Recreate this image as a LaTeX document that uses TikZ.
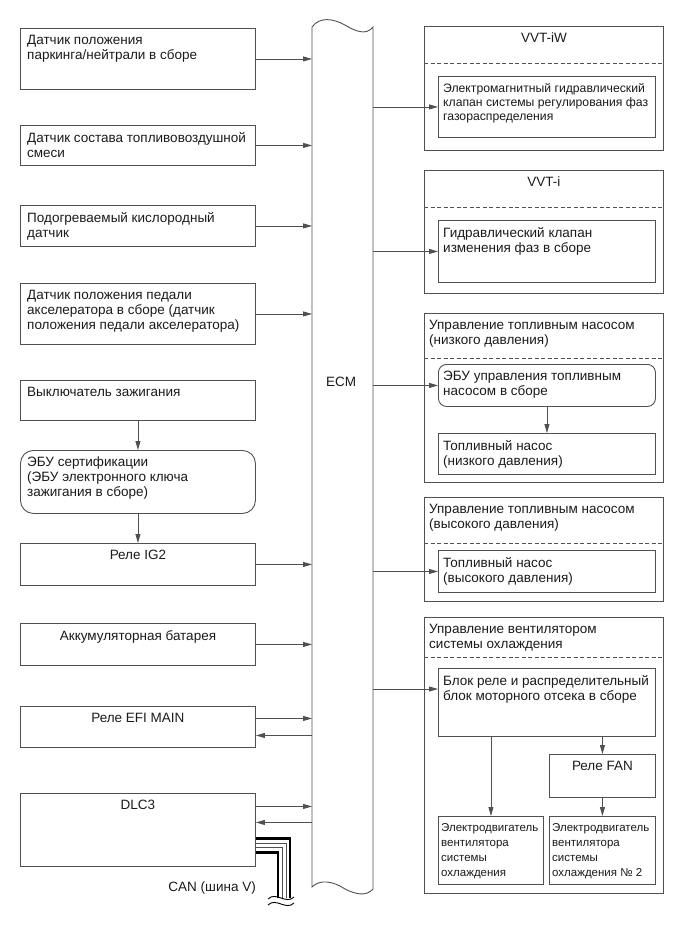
\documentclass[tikz,border=0pt]{standalone}
\usepackage{fontspec}
\setmainfont{Liberation Sans}
\usetikzlibrary{arrows.meta,calc}

\definecolor{linec}{HTML}{505050}
\definecolor{textc}{HTML}{1A1A1A}

\tikzset{
  blk/.style={draw=linec, line width=0.9pt, anchor=north west, inner sep=0pt},
  rblk/.style={blk, rounded corners=#1},
  txt/.style={anchor=north west, align=left, inner sep=0pt, text=textc,
    font=\fontsize{13.5}{15}\selectfont, xshift=7pt, yshift=-7pt},
  rtxt/.style={txt, xshift=-2pt},
  ctxt/.style={anchor=north, inner sep=0pt, text=textc,
    font=\fontsize{13.5}{15}\selectfont, yshift=-7pt},
  mtxt/.style={txt, xshift=-4pt, font=\fontsize{11.5}{15}\selectfont},
  arr/.style={draw=linec, line width=0.8pt, -{Triangle[length=9pt,width=5pt]}},
  dashsep/.style={draw=linec, line width=0.8pt, dash pattern=on 4pt off 2.5pt},
  canthick/.style={draw=black, line width=2.6pt},
  canthin/.style={draw=linec, line width=0.6pt},
}

\begin{document}
\begin{tikzpicture}[x=1pt,y=-1pt]
  \useasboundingbox (0,0) rectangle (689,951);

  % left column
  \node[blk, minimum width=235, minimum height=61] (park) at (20,28) {};
  \node[txt] (park-t) at (park.north west) {Датчик положения\\паркинга/нейтрали в сборе};
  \node[blk, minimum width=235, minimum height=40] (mix) at (20,125) {};
  \node[txt] (mix-t) at (mix.north west) {Датчик состава топливовоздушной\\смеси};
  \node[blk, minimum width=235, minimum height=41] (oxy) at (20,205) {};
  \node[txt] (oxy-t) at (oxy.north west) {Подогреваемый кислородный\\датчик};
  \node[blk, minimum width=235, minimum height=61] (pedal) at (20,283) {};
  \node[txt] (pedal-t) at (pedal.north west) {Датчик положения педали\\акселератора в сборе (датчик\\положения педали акселератора)};
  \node[blk, minimum width=235, minimum height=40] (ign) at (20,380) {};
  \node[txt] (ign-t) at (ign.north west) {Выключатель зажигания};
  \node[rblk=13pt, minimum width=235, minimum height=63] (cert) at (20,450) {};
  \node[txt] (cert-t) at (cert.north west) {ЭБУ сертификации\\(ЭБУ электронного ключа\\зажигания в сборе)};
  \node[blk, minimum width=235, minimum height=42] (ig2) at (20,543) {};
  \node[ctxt] (ig2-t) at (ig2.north) {Реле IG2};
  \node[blk, minimum width=235, minimum height=42] (batt) at (20,623) {};
  \node[ctxt] (batt-t) at (batt.north) {Аккумуляторная батарея};
  \node[blk, minimum width=235, minimum height=41] (efi) at (20,706) {};
  \node[ctxt] (efi-t) at (efi.north) {Реле EFI MAIN};
  \node[blk, minimum width=235, minimum height=73] (dlc) at (20,793) {};
  \node[ctxt] (dlc-t) at (dlc.north) {DLC3};

  \draw[arr] (ign) -- (cert);
  \draw[arr] (cert) -- (ig2);

  % ECM
  \coordinate (ecmL) at (312,27);
  \coordinate (ecmR) at (373,27);
  \draw[draw=linec, line width=0.9pt] (312,887) -- (ecmL)
    .. controls (320,16) and (334,19) .. (345,25)
    .. controls (355,31) and (366,36) .. (ecmR) -- (373,889)
    .. controls (366,897) and (355,894) .. (345,889)
    .. controls (333,881) and (320,879) .. cycle;
  \node[text=textc, font=\fontsize{13.5}{15}\selectfont] (ecm) at (341,382) {ECM};

  \foreach \n in {park,mix,oxy,pedal,ig2,batt}
    \draw[arr] (\n.east) -- (\n.east -| ecmL);
  \coordinate (efi-o) at ($(efi.east)+(0,-8.5)$);
  \coordinate (efi-i) at ($(efi.east)+(0,8.5)$);
  \draw[arr] (efi-o) -- (efi-o -| ecmL);
  \draw[arr] (efi-i -| ecmL) -- (efi-i);
  \coordinate (dlc-o) at ($(dlc.east)+(0,-23.5)$);
  \coordinate (dlc-i) at ($(dlc.east)+(0,-7.5)$);
  \draw[arr] (dlc-o) -- (dlc-o -| ecmL);
  \draw[arr] (dlc-i -| ecmL) -- (dlc-i);

  % CAN
  \coordinate (canA) at ($(dlc.east)+(0,8.5)$);
  \coordinate (canB) at ($(dlc.east)+(0,13.5)$);
  \coordinate (canC) at ($(dlc.east)+(0,17.5)$);
  \coordinate (canD) at ($(dlc.east)+(0,22.5)$);
  \draw[canthick] (canA) -| (290,898);
  \draw[canthin] (canB) -| (286,898);
  \draw[canthin] (canC) -| (282,898);
  \draw[canthick] (canD) -| (278,898);
  \draw[line width=0.9pt] (268,899) .. controls (276,891) and (286,905) .. (294,897);
  \draw[line width=0.9pt] (268,905) .. controls (276,897) and (286,911) .. (294,903);
  \node[anchor=east, inner sep=0pt, text=textc, font=\fontsize{13.5}{15}\selectfont] (can) at (256,888) {CAN (шина V)};

  % right column
  \node[blk, minimum width=239, minimum height=124] (vvtiw) at (424,26) {};
  \node[ctxt] (vvtiw-t) at (vvtiw.north) {VVT-iW};
  \draw[dashsep] (vvtiw.west |- 0,63) -- (vvtiw.east |- 0,63);
  \node[blk, minimum width=217, minimum height=61] (ocv) at (438,76) {};
  \node[rtxt, font=\fontsize{12.2}{14}\selectfont] (ocv-t) at (ocv.north west) {Электромагнитный гидравлический\\клапан системы регулирования фаз\\газораспределения};

  \node[blk, minimum width=239, minimum height=123] (vvti) at (424,170) {};
  \node[ctxt] (vvti-t) at (vvti.north) {VVT-i};
  \draw[dashsep] (vvti.west |- 0,207) -- (vvti.east |- 0,207);
  \node[blk, minimum width=217, minimum height=62] (valve) at (438,220) {};
  \node[rtxt] (valve-t) at (valve.north west) {Гидравлический клапан\\изменения фаз в сборе};

  \node[blk, minimum width=239, minimum height=169] (lpc) at (424,313) {};
  \node[rtxt] (lpc-t) at (lpc.north west) {Управление топливным насосом\\(низкого давления)};
  \draw[dashsep] (lpc.west |- 0,358) -- (lpc.east |- 0,358);
  \node[rblk=8pt, minimum width=217, minimum height=42] (pecu) at (438,364) {};
  \node[rtxt] (pecu-t) at (pecu.north west) {ЭБУ управления топливным\\насосом в сборе};
  \node[blk, minimum width=217, minimum height=41] (lpump) at (438,433) {};
  \node[rtxt] (lpump-t) at (lpump.north west) {Топливный насос\\(низкого давления)};
  \draw[arr] (pecu) -- (lpump);

  \node[blk, minimum width=239, minimum height=104] (hpc) at (424,497) {};
  \node[rtxt] (hpc-t) at (hpc.north west) {Управление топливным насосом\\(высокого давления)};
  \draw[dashsep] (hpc.west |- 0,543) -- (hpc.east |- 0,543);
  \node[blk, minimum width=217, minimum height=42] (hpump) at (438,550) {};
  \node[rtxt] (hpump-t) at (hpump.north west) {Топливный насос\\(высокого давления)};

  \node[blk, minimum width=239, minimum height=276] (fanc) at (424,617) {};
  \node[rtxt] (fanc-t) at (fanc.north west) {Управление вентилятором\\системы охлаждения};
  \draw[dashsep] (fanc.west |- 0,657) -- (fanc.east |- 0,657);
  \node[blk, minimum width=217, minimum height=68] (rblock) at (438,668) {};
  \node[rtxt] (rblock-t) at (rblock.north west) {Блок реле и распределительный\\блок моторного отсека в сборе};
  \node[blk, minimum width=106, minimum height=43] (fanrel) at (549,754) {};
  \node[ctxt] (fanrel-t) at (fanrel.north) {Реле FAN};
  \node[blk, minimum width=105, minimum height=68] (motor1) at (438,816) {};
  \node[mtxt] (motor1-t) at (motor1.north west) {Электродвигатель\\вентилятора\\системы\\охлаждения};
  \node[blk, minimum width=106, minimum height=68] (motor2) at (549,816) {};
  \node[mtxt] (motor2-t) at (motor2.north west) {Электродвигатель\\вентилятора\\системы\\охлаждения № 2};
  \draw[arr] (rblock.south -| motor1) -- (motor1);
  \draw[arr] (rblock.south -| fanrel) -- (fanrel);
  \draw[arr] (fanrel) -- (motor2);

  % ECM outputs
  \draw[arr] (ocv.west -| ecmR) -- (ocv);
  \draw[arr] (valve.west -| ecmR) -- (valve);
  \draw[arr] (pecu.west -| ecmR) -- (pecu);
  \draw[arr] (hpump.west -| ecmR) -- (hpump);
  \coordinate (rblock-in) at ($(rblock.north west)+(0,21)$);
  \draw[arr] (rblock-in -| ecmR) -- (rblock-in);
\end{tikzpicture}
\end{document}
